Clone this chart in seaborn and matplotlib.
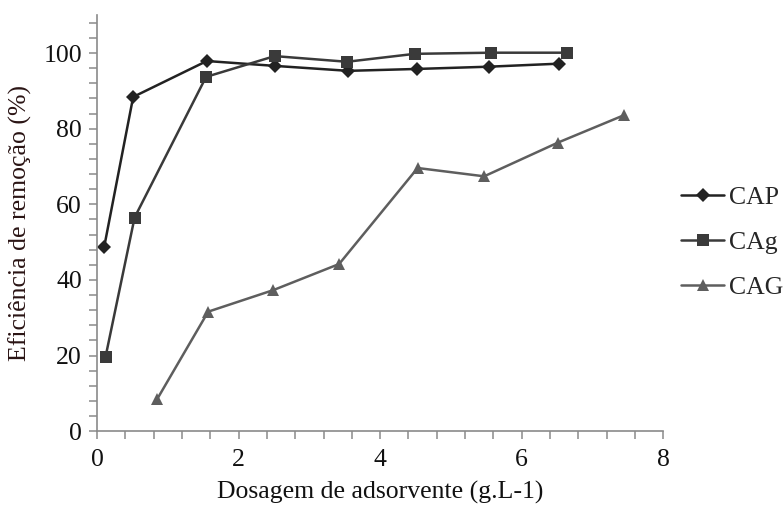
import pandas as pd
import seaborn as sns
import matplotlib.pyplot as plt

# dados
dose_cap = [0.10, 0.51, 1.55, 2.52, 3.55, 4.52, 5.54, 6.53]
efic_cap = [48.7, 88.4, 97.9, 96.6, 95.3, 95.8, 96.4, 97.2]

dose_cag = [0.12, 0.53, 1.54, 2.51, 3.53, 4.49, 5.57, 6.64]
efic_cag = [19.7, 56.5, 93.7, 99.2, 97.7, 99.8, 100.1, 100.1]

dose_cagr = [0.85, 1.57, 2.49, 3.42, 4.53, 5.47, 6.51, 7.45]
efic_cagr = [8.5, 31.6, 37.3, 44.2, 69.6, 67.4, 76.3, 83.6]

series = ["CAP", "CAg", "CAG"]

df = pd.concat([
    pd.DataFrame({"dose": dose_cap, "efic": efic_cap, "serie": "CAP"}),
    pd.DataFrame({"dose": dose_cag, "efic": efic_cag, "serie": "CAg"}),
    pd.DataFrame({"dose": dose_cagr, "efic": efic_cagr, "serie": "CAG"}),
], ignore_index=True)

sns.set_style("ticks")
plt.rcParams['font.family'] = ['Liberation Serif', 'DejaVu Serif']

fig = plt.figure(figsize=(7.83, 5.09), dpi=100)
ax = fig.add_axes([0.124, 0.153, 0.723, 0.817])

cores = {"CAP": "#222222", "CAg": "#3a3a3a", "CAG": "#5e5e5e"}
marcadores = {"CAP": "D", "CAg": "s", "CAG": "^"}

sns.lineplot(data=df, x="dose", y="efic", hue="serie", style="serie",
             hue_order=series, style_order=series, palette=cores,
             markers=marcadores, dashes=False, estimator=None, sort=False,
             linewidth=1.8, markersize=9, markeredgewidth=0, ax=ax)

# ajuste individual do tamanho dos marcadores
for ln in ax.lines:
    if ln.get_marker() == "D":
        ln.set_markersize(7)

ax.set_xlim(0, 8)
ax.set_ylim(0, 110)
ax.set_xticks([0, 2, 4, 6, 8])
ax.set_xticks([i * 0.4 for i in range(21)], minor=True)
ax.set_yticks([0, 20, 40, 60, 80, 100])
ax.set_yticks([i * 4 for i in range(28)], minor=True)

for s in ["top", "right"]:
    ax.spines[s].set_visible(False)
for s in ["left", "bottom"]:
    ax.spines[s].set_color("#8a8a8a")
    ax.spines[s].set_linewidth(1.2)

ax.tick_params(which="both", direction="out", color="#8a8a8a", width=1.1,
               length=6, labelsize=18.5, labelcolor="#111111")
ax.tick_params(axis="x", pad=7)
ax.tick_params(axis="y", pad=5)

ax.set_xlabel("Dosagem de adsorvente (g.L-1)", fontsize=18.5, color="#111111", labelpad=7)
ax.set_ylabel("Eficiência de remoção (%)", fontsize=18.5, color="#2a1414", labelpad=8)

leg = ax.legend(loc="center left", bbox_to_anchor=(0.99, 0.454), frameon=False,
                fontsize=18.5, handlelength=1.7, handletextpad=0.2, labelspacing=0.85)

plt.savefig("out.png", dpi=100)
